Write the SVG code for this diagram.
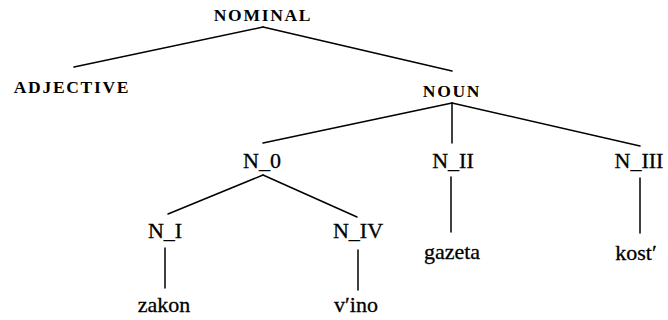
<svg xmlns="http://www.w3.org/2000/svg" width="668" height="320" viewBox="0 0 668 320">
<style>
.cap{font-family:"Liberation Serif","Times New Roman",serif;font-weight:bold;font-size:17.5px;letter-spacing:1.7px;text-anchor:middle;fill:#000}
.lab{font-family:"Liberation Serif","Times New Roman",serif;font-size:22px;text-anchor:middle;fill:#000;stroke:#000;stroke-width:0.3}
.edge{stroke:#000;stroke-width:1.5;fill:none;stroke-linecap:round}
</style>
<rect width="668" height="320" fill="#fff"/>
<g id="connectors">
<line class="edge" x1="263" y1="27" x2="74" y2="67"/>
<line class="edge" x1="263" y1="27" x2="452" y2="71"/>
<line class="edge" x1="452" y1="103" x2="263" y2="143"/>
<line class="edge" x1="452" y1="103" x2="452" y2="143"/>
<line class="edge" x1="452" y1="103" x2="640" y2="146"/>
<line class="edge" x1="263" y1="175" x2="168" y2="214"/>
<line class="edge" x1="263" y1="175" x2="357" y2="217"/>
<line class="edge" x1="165" y1="248" x2="165" y2="288"/>
<line class="edge" x1="358" y1="250" x2="358" y2="290"/>
<line class="edge" x1="451" y1="177" x2="451" y2="232"/>
<line class="edge" x1="640" y1="178" x2="640" y2="233"/>
</g>
<g id="nominal"><text class="cap" x="263" y="21">NOMINAL</text></g>
<g id="adjective"><text class="cap" x="72" y="93">ADJECTIVE</text></g>
<g id="noun"><text class="cap" x="452" y="97">NOUN</text></g>
<g id="n0"><text class="lab" x="262" y="168">N_0</text></g>
<g id="n2"><text class="lab" x="453" y="168">N_II</text></g>
<g id="n3"><text class="lab" x="639" y="168">N_III</text></g>
<g id="n1"><text class="lab" x="165" y="238">N_I</text></g>
<g id="n4"><text class="lab" x="358" y="238">N_IV</text></g>
<g id="zakon"><text class="lab" x="164" y="312">zakon</text></g>
<g id="vino"><text class="lab" x="356" y="312">v′ino</text></g>
<g id="gazeta"><text class="lab" x="452" y="259">gazeta</text></g>
<g id="kost"><text class="lab" x="636" y="260">kost′</text></g>
</svg>
